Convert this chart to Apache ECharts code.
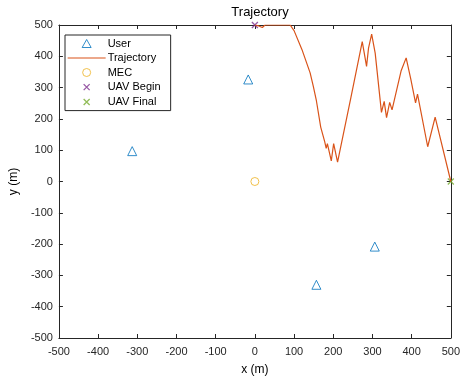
<!DOCTYPE html>
<html>
<head>
<meta charset="utf-8">
<script src="https://cdn.jsdelivr.net/npm/echarts@6/dist/echarts.min.js"></script>
<style>
  html, body { margin: 0; padding: 0; background: #fff; }
  #chart { width: 463px; height: 381px; }
</style>
</head>
<body>
<div id="chart"></div>
<script>
// data
const userPoints = [[-313, 97], [-17, 326], [157, -330], [306, -208]];
const trajectory = [
  [0, 500], [10, 497], [19, 492], [26, 500], [90, 500], [100, 482],
  [120, 422], [141, 347], [149, 305], [157, 258], [168, 174], [172, 168],
  [178, 128], [182, 106], [185, 121], [195, 66], [201, 121], [211, 62],
  [245, 268], [274, 447], [285, 368], [290, 426], [298, 471], [307, 410],
  [323, 221], [330, 256], [336, 204], [344, 253], [350, 229], [373, 353],
  [377, 355], [386, 395], [398, 326], [410, 251], [415, 279], [441, 111],
  [460, 206], [464, 209], [500, 0]
];
const mecPoint = [[0, 0]];
const uavBegin = [[0, 500]];
const uavFinal = [[500, 0]];
const axisTicks = [-500, 500, 100];

const axisColor = '#262626';
const font = 'Liberation Sans';
const crossPath = 'path://M0,0L10,10M10,0L0,10';

// legend icons: 38x10 box, the M0,0M38,10 moves only fix the bounds
const box = 'path://M0,0M38,10';
const legendIcons = {
  User: box + 'M14.5,9L23.5,9L19,1Z',
  Trajectory: box + 'M0,4.4L38,4.4L38,5.6L0,5.6Z',
  MEC: box + 'M23,5A4,4 0 1,1 15,5A4,4 0 1,1 23,5Z',
  'UAV Begin': box + 'M16,2L22,8M22,2L16,8',
  'UAV Final': box + 'M16,2L22,8M22,2L16,8'
};
const colors = {
  User: '#0072BD', Trajectory: '#D95319', MEC: '#EDB120',
  'UAV Begin': '#7E2F8E', 'UAV Final': '#77AC30'
};

const chart = echarts.init(document.getElementById('chart'));

const boxAxis = (pos, extra) => Object.assign({
  type: 'value',
  position: pos,
  min: axisTicks[0],
  max: axisTicks[1],
  interval: axisTicks[2],
  axisLine: { show: true, onZero: false, lineStyle: { color: axisColor, width: 1 } },
  axisTick: { show: true, inside: true, length: 4, lineStyle: { color: axisColor } },
  splitLine: { show: false },
  axisLabel: { show: false }
}, extra);

const legendData = Object.keys(legendIcons).map((name) => ({
  name: name,
  icon: legendIcons[name],
  itemStyle: name === 'Trajectory'
    ? { color: colors[name], borderWidth: 0 }
    : { color: 'rgba(0,0,0,0)', borderColor: colors[name], borderWidth: name.startsWith('UAV') ? 1.3 : 1 }
}));

chart.setOption({
  animation: false,
  backgroundColor: '#fff',
  title: {
    text: 'Trajectory',
    left: 255,
    textAlign: 'center',
    top: 1,
    textStyle: { fontFamily: font, fontSize: 13, fontWeight: 'normal', color: '#000' }
  },
  grid: { left: 54, right: 7, top: 25, bottom: 39 },
  legend: {
    orient: 'vertical',
    left: 65,
    top: 35,
    itemWidth: 38,
    itemHeight: 10,
    itemGap: 3.5,
    padding: [3, 10, 3, 2],
    borderColor: axisColor,
    borderWidth: 1,
    backgroundColor: '#fff',
    textStyle: { fontFamily: font, fontSize: 11, color: '#000', padding: [0, 0, 0, -3] },
    data: legendData
  },
  xAxis: [
    boxAxis('bottom', {
      name: 'x (m)',
      nameLocation: 'middle',
      nameGap: 26,
      nameTextStyle: { fontFamily: font, fontSize: 12, color: '#000' },
      axisLabel: { show: true, margin: 8, fontFamily: font, fontSize: 11, color: axisColor }
    }),
    boxAxis('top', {})
  ],
  yAxis: [
    boxAxis('left', {
      name: 'y (m)',
      nameLocation: 'middle',
      nameGap: 36,
      nameTextStyle: { fontFamily: font, fontSize: 12, color: '#000' },
      axisLabel: { show: true, margin: 6, fontFamily: font, fontSize: 11, color: axisColor }
    }),
    boxAxis('right', {})
  ],
  series: [
    {
      name: 'User', type: 'scatter', data: userPoints,
      symbol: 'triangle', symbolSize: 9,
      itemStyle: { color: 'rgba(0,0,0,0)', borderColor: colors.User, borderWidth: 1 }
    },
    {
      name: 'Trajectory', type: 'line', data: trajectory,
      showSymbol: false, symbol: 'none',
      lineStyle: { color: colors.Trajectory, width: 1.2 },
      itemStyle: { color: colors.Trajectory }
    },
    {
      name: 'MEC', type: 'scatter', data: mecPoint,
      symbol: 'circle', symbolSize: 8,
      itemStyle: { color: 'rgba(0,0,0,0)', borderColor: colors.MEC, borderWidth: 1 }
    },
    {
      name: 'UAV Begin', type: 'scatter', data: uavBegin,
      symbol: crossPath, symbolSize: 6,
      itemStyle: { color: 'rgba(0,0,0,0)', borderColor: colors['UAV Begin'], borderWidth: 1.3 }
    },
    {
      name: 'UAV Final', type: 'scatter', data: uavFinal,
      symbol: crossPath, symbolSize: 6,
      itemStyle: { color: 'rgba(0,0,0,0)', borderColor: colors['UAV Final'], borderWidth: 1.3 }
    }
  ]
});
</script>
</body>
</html>
